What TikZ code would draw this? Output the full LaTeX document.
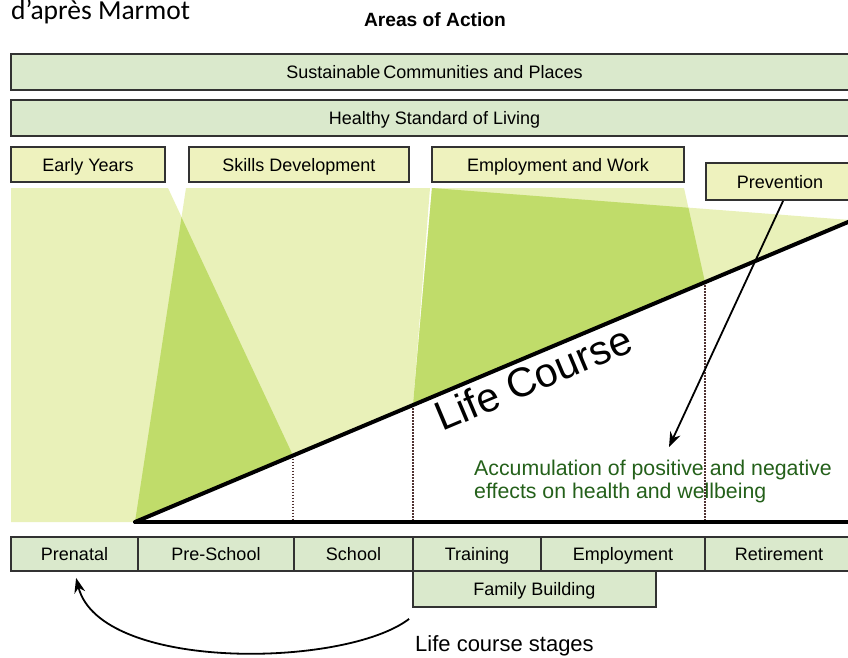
\documentclass[tikz,border=0pt]{standalone}
\usepackage{fontspec}
\setmainfont{Liberation Sans}
\newfontfamily\carlitofont{Carlito}
\usetikzlibrary{arrows.meta,calc}
\definecolor{lightband}{RGB}{233,241,185}
\definecolor{darkband}{RGB}{192,220,106}
\definecolor{barfill}{RGB}{218,233,204}
\definecolor{areafill}{RGB}{238,242,190}
\definecolor{boxline}{RGB}{50,50,50}
\definecolor{dotline}{RGB}{80,50,50}
\definecolor{acctext}{RGB}{36,96,26}
\begin{document}
\begin{tikzpicture}[x=1pt,y=-1pt,
  barbox/.style={draw=boxline, line width=1.8pt, fill=barfill, inner sep=0pt,
    text height=13pt, text depth=0pt, font=\fontsize{18}{21}\selectfont},
  areabox/.style={barbox, fill=areafill},
  stagebox/.style={barbox},
  dotv/.style={draw=dotline, line width=2.4pt, dash pattern=on 1.6pt off 1.4pt},
  lifeline/.style={line width=4pt, line cap=round},
  tip/.style={-{Stealth[length=15pt,width=11pt]}, line width=1.8pt}]
\useasboundingbox (0,0) rectangle (848,657);

% bands
\fill[lightband] (11,188) -- (168,188) -- (293,455.5) -- (135,522) -- (11,522) -- cycle;
\fill[lightband] (186,188) -- (430,188) -- (413,405) -- (135,522) -- cycle;
\fill[lightband] (432,188) -- (684,188) -- (705,282.2) -- (413,405) -- cycle;
\fill[lightband] (432,188) -- (850,220) -- (850,221.2) -- (413,405) -- cycle;
\fill[darkband] (181.5,217.2) -- (293,455.5) -- (135,522) -- cycle;
\fill[darkband] (432,188) -- (688.4,207.7) -- (705,282.2) -- (413,405) -- cycle;

% life course line and base
\coordinate (lcA) at (135,522);
\coordinate (lcB) at (850,221.2);
\coordinate (baseR) at (850,522);
\coordinate (d1) at (293,455.5);
\coordinate (d2) at (413,405);
\coordinate (d3) at (705,282.2);
\draw[dotv] (d1) -- (d1 |- lcA);
\draw[dotv] (d2) -- (d2 |- lcA);
\draw[dotv] (d3) -- (d3 |- lcA);
\draw[lifeline] (lcA) -- (lcB);
\draw[line width=4.5pt] (lcA) -- (baseR);

% titles
\node[anchor=base west, inner sep=0pt, font=\carlitofont\fontsize{27.5}{32}\selectfont] (marmot) at (11,19.5) {d’après Marmot};
\node[anchor=base, inner sep=0pt, font=\bfseries\fontsize{19.2}{22}\selectfont] (areas) at (435,26.5) {Areas of Action};

% bars
\node[barbox, minimum width=847pt, minimum height=36pt] (sus) at (434.5,72) {Sustainable\,Communities and Places};
\node[barbox, minimum width=847pt, minimum height=36pt] (hsl) at (434.5,118) {Healthy Standard of Living};

% areas of action boxes
\node[areabox, minimum width=154pt, minimum height=35pt] (ey) at (88,164.5) {Early Years};
\node[areabox, minimum width=220pt, minimum height=35pt] (sd) at (299,164.5) {Skills Development};
\node[areabox, minimum width=252pt, minimum height=35pt] (ew) at (558,164.5) {Employment and Work};
\node[areabox, minimum width=148pt, minimum height=37pt] (prev) at (780,181.5) {Prevention};

% life course label
\node[anchor=base west, inner sep=0pt, rotate=22.8, font=\fontsize{41}{46}\selectfont] (lc) at (442,432) {Life Course};

% accumulation text
\node[anchor=base west, inner sep=0pt, text=acctext, font=\fontsize{21.3}{24}\selectfont] (acc1) at (474,475) {Accumulation of positive and negative};
\node[anchor=base west, inner sep=0pt, text=acctext, font=\fontsize{21.3}{24}\selectfont] (acc2) at (474,498.5) {effects on health and wellbeing};

% prevention arrow
\coordinate (pvstart) at ($(prev.south west)+(78,0)$);
\coordinate (acctip) at (669,447);
\draw[tip] (pvstart) -- (acctip);

% stages
\node[stagebox, minimum width=127pt, minimum height=34pt] (pre) at (74.5,554) {Prenatal};
\node[stagebox, minimum width=156pt, minimum height=34pt] (ps) at (216,554) {Pre-School};
\node[stagebox, minimum width=119pt, minimum height=34pt] (sch) at (353.5,554) {School};
\node[stagebox, minimum width=128pt, minimum height=34pt] (tr) at (477,554) {Training};
\node[stagebox, minimum width=164pt, minimum height=34pt] (emp) at (623,554) {Employment};
\node[stagebox, minimum width=148pt, minimum height=34pt] (ret) at (779,554) {Retirement};
\node[stagebox, minimum width=243pt, minimum height=36pt] (fb) at (534.5,589) {Family Building};

% life course stages label and loop arrow
\node[anchor=base west, inner sep=0pt, font=\fontsize{22}{25}\selectfont] (lcs) at (415,651) {Life course stages};
\coordinate (loopstart) at ($(fb.south west)+(-3,11)$);
\coordinate (looptip) at ($(pre.south west)+(66,6)$);
\draw[tip] (loopstart) .. controls (345,668) and (100,672) .. (looptip);
\end{tikzpicture}
\end{document}
